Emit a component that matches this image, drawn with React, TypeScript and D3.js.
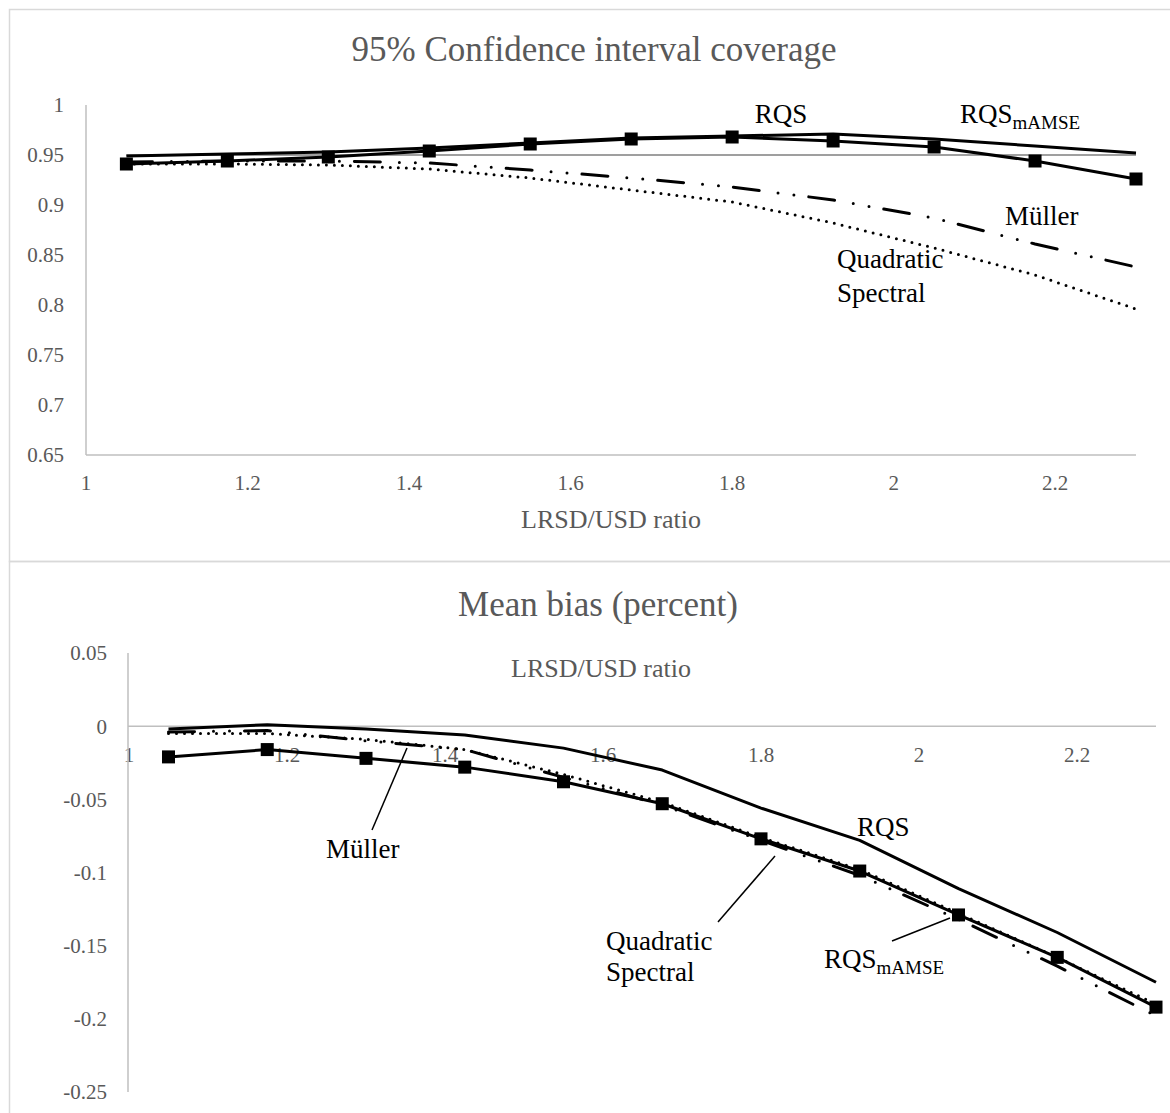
import React from 'react';
import * as d3 from 'd3';

// LRSD/USD ratio at which each estimator was evaluated
const ratio = [1.05, 1.175, 1.3, 1.425, 1.55, 1.675, 1.8, 1.925, 2.05, 2.175, 2.3];

// 95% confidence interval coverage
const covNominal = [0.95, 0.95, 0.95, 0.95, 0.95, 0.95, 0.95, 0.95, 0.95, 0.95, 0.95];
const covRQS = [0.949, 0.951, 0.953, 0.957, 0.962, 0.967, 0.969, 0.971, 0.966, 0.959, 0.952];
const covRQSmAMSE = [0.941, 0.944, 0.948, 0.954, 0.961, 0.966, 0.968, 0.964, 0.958, 0.944, 0.926];
const covMuller = [0.943, 0.944, 0.944, 0.942, 0.935, 0.927, 0.918, 0.905, 0.887, 0.861, 0.838];
const covQS = [0.941, 0.941, 0.940, 0.936, 0.927, 0.915, 0.903, 0.882, 0.857, 0.830, 0.796];

// Mean bias (percent)
const biasRQS = [-0.002, 0.001, -0.002, -0.006, -0.015, -0.030, -0.056, -0.078, -0.111, -0.141, -0.175];
const biasRQSmAMSE = [-0.021, -0.016, -0.022, -0.028, -0.038, -0.053, -0.077, -0.099, -0.129, -0.158, -0.192];
const biasMuller = [-0.004, -0.003, -0.010, -0.016, -0.035, -0.054, -0.078, -0.102, -0.132, -0.164, -0.198];
const biasQS = [-0.005, -0.005, -0.009, -0.016, -0.033, -0.052, -0.076, -0.098, -0.128, -0.158, -0.190];

// Axis ticks
const xTicks = [1, 1.2, 1.4, 1.6, 1.8, 2, 2.2];
const covTicks = [0.65, 0.7, 0.75, 0.8, 0.85, 0.9, 0.95, 1];
const biasTicks = [-0.25, -0.2, -0.15, -0.1, -0.05, 0, 0.05];

const FONT = '"Liberation Serif", "Times New Roman", serif';
const GREY_TEXT = '#595959';
const AXIS = '#bfbfbf';
const FRAME = '#d9d9d9';

const SOLID = { stroke: '#000', strokeWidth: 3, fill: 'none', strokeLinejoin: 'round' as const };
const DOTTED = { ...SOLID, strokeDasharray: '0 8', strokeLinecap: 'round' as const };
const DASH_DOT_DOT = { ...SOLID, strokeDasharray: '26 19 0 16 0 15', strokeLinecap: 'round' as const };

type Scale = d3.ScaleLinear<number, number>;

function pathFor(x: Scale, y: Scale, values: number[]) {
  const gen = d3.line<number>().x((_, i) => x(ratio[i])).y((v) => y(v));
  return gen(values) || '';
}

function Markers({ x, y, values }: { x: Scale; y: Scale; values: number[] }) {
  const s = 13;
  return (
    <g>
      {values.map((v, i) => (
        <rect key={i} x={x(ratio[i]) - s / 2} y={y(v) - s / 2} width={s} height={s} fill="#000" />
      ))}
    </g>
  );
}

function fmt(v: number) {
  return String(+v.toFixed(2));
}

export default function App() {
  const xTop = d3.scaleLinear().domain([1, 2.3]).range([86, 1136]);
  const yTop = d3.scaleLinear().domain([0.65, 1]).range([455, 105]);
  const xBot = d3.scaleLinear().domain([1, 2.3]).range([129, 1156]);
  const yBot = d3.scaleLinear().domain([-0.25, 0.05]).range([1092, 653]);

  return (
    <svg
      width={1170}
      height={1113}
      style={{ position: 'absolute', left: 0, top: 0, background: '#fff' }}
      fontFamily={FONT}
    >
      {/* chart frames */}
      <rect x={9.5} y={9.5} width={1175} height={552} fill="none" stroke={FRAME} strokeWidth={1.5} />
      <rect x={9.5} y={561.5} width={1175} height={600} fill="none" stroke={FRAME} strokeWidth={1.5} />

      {/* ---------- Coverage chart ---------- */}
      <text x={594} y={61} textAnchor="middle" fontSize={35} fill={GREY_TEXT}>
        95% Confidence interval coverage
      </text>

      {covTicks.map((t) => (
        <text key={t} x={64} y={yTop(t)} dy="0.35em" textAnchor="end" fontSize={21} fill={GREY_TEXT}>
          {fmt(t)}
        </text>
      ))}
      {xTicks.map((t) => (
        <text key={t} x={xTop(t)} y={490} textAnchor="middle" fontSize={21} fill={GREY_TEXT}>
          {fmt(t)}
        </text>
      ))}
      <line x1={xTop(1)} x2={xTop(1)} y1={yTop(1)} y2={yTop(0.65)} stroke={AXIS} strokeWidth={1.5} />
      <line x1={xTop(1)} x2={xTop(2.3)} y1={yTop(0.65)} y2={yTop(0.65)} stroke={AXIS} strokeWidth={1.5} />
      <text x={611} y={528} textAnchor="middle" fontSize={26} fill={GREY_TEXT}>
        LRSD/USD ratio
      </text>

      <path d={pathFor(xTop, yTop, covNominal)} stroke="#7f7f7f" strokeWidth={1.5} fill="none" />
      <path d={pathFor(xTop, yTop, covQS)} {...DOTTED} />
      <path d={pathFor(xTop, yTop, covMuller)} {...DASH_DOT_DOT} />
      <path d={pathFor(xTop, yTop, covRQS)} {...SOLID} />
      <path d={pathFor(xTop, yTop, covRQSmAMSE)} {...SOLID} />
      <Markers x={xTop} y={yTop} values={covRQSmAMSE} />

      <g fontSize={27} fill="#000">
        <text x={781} y={123} textAnchor="middle">RQS</text>
        <text x={960} y={123}>
          RQS<tspan fontSize={19} dy={6}>mAMSE</tspan>
        </text>
        <text x={1005} y={225}>Müller</text>
        <text x={837} y={268}>Quadratic</text>
        <text x={837} y={302}>Spectral</text>
      </g>

      {/* ---------- Mean bias chart ---------- */}
      <text x={598} y={616} textAnchor="middle" fontSize={35} fill={GREY_TEXT}>
        Mean bias (percent)
      </text>

      {biasTicks.map((t) => (
        <text key={t} x={107} y={yBot(t)} dy="0.35em" textAnchor="end" fontSize={21} fill={GREY_TEXT}>
          {fmt(t)}
        </text>
      ))}
      {xTicks.map((t) => (
        <text key={t} x={xBot(t)} y={762} textAnchor="middle" fontSize={21} fill={GREY_TEXT}>
          {fmt(t)}
        </text>
      ))}
      <line x1={xBot(1) - 1} x2={xBot(1) - 1} y1={yBot(0.05)} y2={yBot(-0.25)} stroke={AXIS} strokeWidth={1.5} />
      <line x1={xBot(1) - 1} x2={xBot(2.3)} y1={yBot(0)} y2={yBot(0)} stroke={AXIS} strokeWidth={1.5} />
      <text x={601} y={677} textAnchor="middle" fontSize={26} fill={GREY_TEXT}>
        LRSD/USD ratio
      </text>

      <path d={pathFor(xBot, yBot, biasQS)} {...DOTTED} />
      <path d={pathFor(xBot, yBot, biasMuller)} {...DASH_DOT_DOT} />
      <path d={pathFor(xBot, yBot, biasRQS)} {...SOLID} />
      <path d={pathFor(xBot, yBot, biasRQSmAMSE)} {...SOLID} />
      <Markers x={xBot} y={yBot} values={biasRQSmAMSE} />

      {/* leader lines */}
      <g stroke="#000" strokeWidth={1.5}>
        <line x1={372} y1={830} x2={407} y2={748} />
        <line x1={718} y1={922} x2={775} y2={856} />
        <line x1={892} y1={941} x2={950} y2={918} />
      </g>
      <g fontSize={27} fill="#000">
        <text x={326} y={858}>Müller</text>
        <text x={857} y={836}>RQS</text>
        <text x={606} y={950}>Quadratic</text>
        <text x={606} y={981}>Spectral</text>
        <text x={824} y={968}>
          RQS<tspan fontSize={19} dy={6}>mAMSE</tspan>
        </text>
      </g>
    </svg>
  );
}
